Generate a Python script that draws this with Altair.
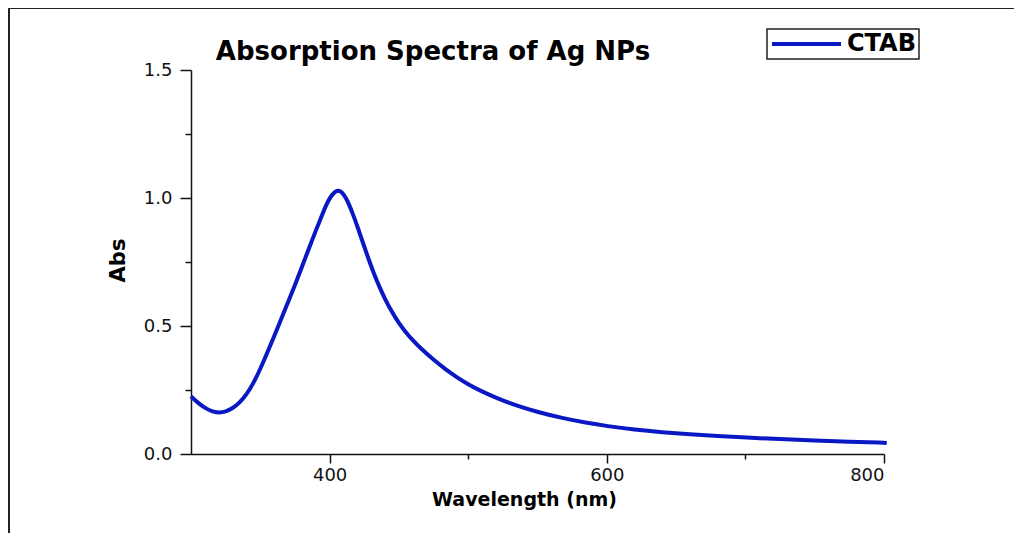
import altair as alt
import pandas as pd

# ---- data ----
wavelength = [300, 305, 310, 315, 320, 325, 330, 335, 340, 345, 350, 355, 360, 365,
              370, 375, 380, 385, 390, 395, 398, 401, 404, 406, 408, 410, 412, 414,
              417, 420, 424, 428, 432, 436, 440, 445, 450, 455, 460, 467, 475, 484,
              492, 500, 510, 522, 535, 550, 568, 585, 600, 620, 640, 660, 680, 700,
              725, 750, 775, 800, 802]
absorbance = [0.225, 0.200, 0.180, 0.166, 0.161, 0.165, 0.178, 0.200, 0.232, 0.276,
              0.332, 0.395, 0.460, 0.526, 0.593, 0.660, 0.730, 0.802, 0.872, 0.940,
              0.978, 1.008, 1.025, 1.030, 1.026, 1.015, 0.998, 0.975, 0.935, 0.890,
              0.826, 0.763, 0.704, 0.652, 0.605, 0.554, 0.511, 0.475, 0.444, 0.406,
              0.368, 0.329, 0.299, 0.272, 0.244, 0.215, 0.189, 0.164, 0.140, 0.122,
              0.109, 0.095, 0.085, 0.077, 0.070, 0.064, 0.058, 0.053, 0.048, 0.044,
              0.043]
series_name = ["CTAB"]
x_ticks = [400, 500, 600, 700, 800]
y_ticks = [0.0, 0.25, 0.5, 0.75, 1.0, 1.25, 1.5]
chart_title = ["Absorption Spectra of Ag NPs"]
x_title = "Wavelength (nm)"
y_title = "Abs"

df = pd.DataFrame({"Wavelength": wavelength, "Abs": absorbance,
                   "Sample": [series_name[0]] * len(wavelength)})
title_df = pd.DataFrame({"t": chart_title})
one = pd.DataFrame({"k": [0]})

# ---- layout ----
W, H = 693, 384
PL, PT = 183, 62
TOTAL_W, TOTAL_H = 1006, 525
LINE_BLUE = "#0a18c4"
FONT = "DejaVu Sans"

axis_common = dict(grid=False, domainColor="#111", domainWidth=1.5,
                   tickColor="#111", tickWidth=1.5, labelFont=FONT,
                   labelFontSize=18, labelColor="#111", titleFont=FONT,
                   titleFontWeight="bold", titleColor="#000")

line = alt.Chart(df).mark_line(strokeWidth=4, interpolate="basis", clip=False).encode(
    x=alt.X("Wavelength:Q",
            scale=alt.Scale(domain=[300, 800], nice=False, zero=False),
            axis=alt.Axis(values=x_ticks, title=x_title,
                          labelExpr="datum.value % 200 === 0 ? datum.label : ''",
                          tickSize={"condition": {"test": "datum.value % 200 === 0", "value": 9},
                                    "value": 5},
                          labelPadding=3, titleFontSize=19,
                          titleX=333, titleY=45, titleBaseline="middle",
                          titleAlign="center", **axis_common)),
    y=alt.Y("Abs:Q",
            scale=alt.Scale(domain=[0, 1.5], nice=False, zero=False),
            axis=alt.Axis(values=y_ticks, title=y_title, format=".1f",
                          labelExpr="abs(datum.value*2 - round(datum.value*2)) < 0.001 ? datum.label : ''",
                          tickSize={"condition": {"test": "abs(datum.value*2 - round(datum.value*2)) < 0.001",
                                                  "value": 11},
                                    "value": 6},
                          labelPadding=8, titleFontSize=21, titleAngle=270,
                          titleX=-73, titleY=190, titleBaseline="middle",
                          titleAlign="center", **axis_common)),
    color=alt.Color("Sample:N",
                    scale=alt.Scale(domain=series_name, range=[LINE_BLUE]),
                    legend=alt.Legend(title=None, orient="none",
                                      legendX=767 - 8 - PL, legendY=29 - 8 - PT,
                                      symbolType="M-1,0H5.9", symbolSize=400,
                                      symbolStrokeWidth=4, labelFont=FONT,
                                      labelFontWeight="bold", labelFontSize=24,
                                      labelColor="#000", labelOffset=53,
                                      padding=3, strokeColor="#222",
                                      fillColor="white", cornerRadius=0)),
)

title_mark = alt.Chart(title_df).mark_text(
    font=FONT, fontWeight="bold", fontSize=26, align="center",
    baseline="middle", color="#000"
).encode(x=alt.value(433 - 8 - PL), y=alt.value(52 - 8 - PT), text="t:N")

frame_top = alt.Chart(one).mark_rule(color="#222", strokeWidth=2).encode(
    x=alt.value(1 - PL), x2=alt.value(TOTAL_W - PL), y=alt.value(-PT))
frame_left = alt.Chart(one).mark_rule(color="#222", strokeWidth=2).encode(
    x=alt.value(1 - PL), y=alt.value(-PT), y2=alt.value(TOTAL_H - PT))

chart = alt.layer(frame_top, frame_left, title_mark, line).properties(
    width=W, height=H,
    autosize=alt.AutoSizeParams(type="none"),
    padding={"left": PL, "top": PT, "right": TOTAL_W - PL - W, "bottom": TOTAL_H - PT - H},
    background="white",
).configure_view(stroke=None).configure_legend(strokeWidth=1.5)

chart.save("out.html", embed_options={"renderer": "svg", "actions": False})
